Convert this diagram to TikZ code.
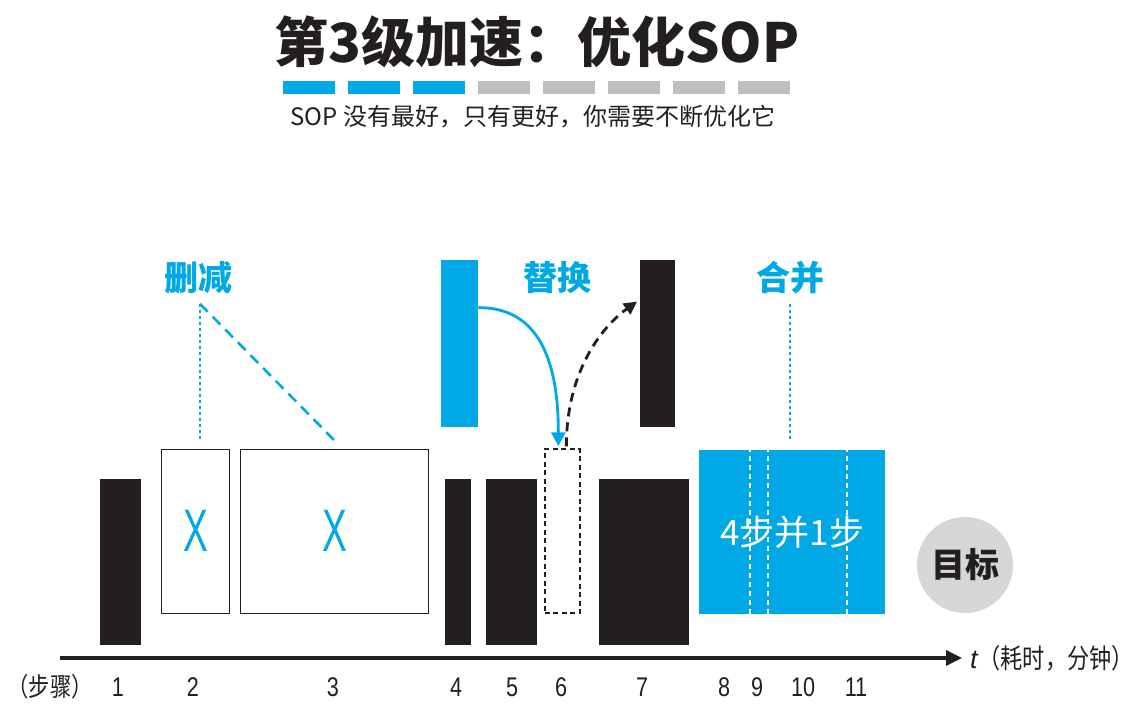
\documentclass[tikz,border=0pt]{standalone}
\usepackage{fontspec}
\setmainfont{Liberation Sans}
\newfontfamily\cjk{Noto Sans CJK SC}
\newfontfamily\cjknarrow[FakeStretch=0.82]{Noto Sans CJK SC}
\newfontfamily\narrow[FakeStretch=0.8]{Liberation Sans}
\newfontfamily\slim[FakeStretch=0.62]{Liberation Sans}
\usetikzlibrary{arrows.meta,positioning,calc}
\definecolor{ink}{HTML}{231F20}
\definecolor{sky}{HTML}{00A9E6}
\definecolor{pale}{HTML}{BEBEBE}
\definecolor{goalgray}{HTML}{D6D6D6}

\begin{document}
\begin{tikzpicture}[
  x=1pt, y=1pt,
  >=Latex,
  bar/.style={fill=ink, draw=none, inner sep=0pt, anchor=south west},
  cutbox/.style={draw=ink, fill=white, line width=1.3pt, inner sep=0pt, anchor=south west},
  tick/.style={fill=#1, draw=none, inner sep=0pt, minimum width=52, minimum height=13, anchor=west},
  tag/.style={font=\cjk\bfseries\fontsize{34}{40}\selectfont, text=sky},
  stepno/.style={font=\narrow\fontsize{27}{30}\selectfont, text=ink},
  cross/.style={font=\slim\fontsize{60}{66}\selectfont, text=sky},
  hint/.style={sky, line width=2.6pt}
]
\useasboundingbox (0,0) rectangle (1147,712);

% Title
\node[font=\cjk\bfseries\fontsize{54}{60}\selectfont, text=ink] (title) at (537,670) {第3级加速：优化SOP};

% progress marks
\foreach \i in {0,...,7}{
  \ifnum\i<3 \def\c{sky}\else\def\c{pale}\fi
  \node[tick=\c] (mark\i) at (283+65*\i,624.5) {};
}

\node[font=\cjk\fontsize{24}{26}\selectfont, text=ink] (subtitle) at (533,595) {SOP 没有最好，只有更好，你需要不断优化它};

% 1. Steps on the time line
\node[bar, minimum width=41, minimum height=166] (s1) at (100,67) {};
\node[cutbox, minimum width=68, minimum height=164] (s2) at (161,98) {};
\node[cutbox, minimum width=188, minimum height=164] (s3) at (240,98) {};
\node[bar, minimum width=26, minimum height=166] (s4) at (445,67) {};
\node[bar, minimum width=51, minimum height=166] (s5) at (486,67) {};
\node[cutbox, dash pattern=on 5pt off 3.5pt, line width=1.7pt, minimum width=35, minimum height=164] (s6) at (544,98) {};
\node[bar, minimum width=90, minimum height=166] (s7) at (599,67) {};
\node[fill=sky, inner sep=0pt, anchor=south west, minimum width=186, minimum height=164,
  text=white, font=\cjk\fontsize{35}{40}\selectfont] (merged) at (699,98) {4步并1步};

\node[cross] (x2) at (s2.center) {X};
\node[cross] (x3) at (s3.center) {X};

% merged steps 8-11
\foreach \xx in {750,768,847}
  \draw[white, dash pattern=on 5pt off 4pt, line width=1.4pt] (\xx,98) -- (\xx,262);

% goal
\node[circle, fill=goalgray, minimum size=96, inner sep=0pt,
  font=\cjk\bfseries\fontsize{34}{38}\selectfont, text=ink] (goal) at (965,147) {目标};

% 2. Top tier: replaced steps and labels
\node[fill=sky, inner sep=0pt, anchor=south west, minimum width=37, minimum height=167] (old) at (441,285) {};
\node[bar, minimum width=35, minimum height=167] (new) at (640,285) {};

\node[tag] (cut) at (198,434) {删减};
\node[tag] (swap) at (557,434) {替换};
\node[tag] (merge) at (790,434) {合并};

% 3. Time axis
\draw[ink, line width=3.5pt, -{Triangle[length=16pt,width=15pt]}] (60,54) -- (962,54) coordinate (axisend);
\node[anchor=west, font=\fontsize{27}{30}\selectfont, text=ink, inner sep=0pt] (tlabel) at ([xshift=8]axisend)
  {\textit{t}\cjknarrow（耗时，分钟）};

\node[font=\cjknarrow\fontsize{26}{28}\selectfont, text=ink] (steps) at (50,25) {（步骤）};
\foreach \n/\xx in {1/118,2/193,3/333,4/456,5/512,6/561,7/642,8/724,9/757,10/803,11/856}
  \node[stepno] (n\n) at (\xx,25) {\n};

% Arrows
\draw[hint, dash pattern=on 3pt off 3pt] ([xshift=2,yshift=-6]cut.south) coordinate (cutfoot) -- (cutfoot |- {$(s2.north)+(0,8)$});
\draw[hint, dash pattern=on 11pt off 7pt] (cutfoot) -- ([yshift=8]s3.north);
\draw[hint, dash pattern=on 3pt off 3pt] ([yshift=-6]merge.south) -- ([yshift=10]merged.north -| merge.south);

\draw[sky, line width=2.8pt, -{Triangle[length=14pt,width=14pt]}] ([yshift=-48]old.north east)
  .. controls +(55,0) and +(0,95) .. ([xshift=-4,yshift=2]s6.north);
\draw[ink, line width=2.8pt, dash pattern=on 9pt off 6pt, -{Triangle[length=13pt,width=13pt]}]
  ([xshift=4,yshift=2]s6.north) .. controls +(0,75) and +(-35,-25) .. ([xshift=-3,yshift=-42]new.north west);

\end{tikzpicture}
\end{document}
